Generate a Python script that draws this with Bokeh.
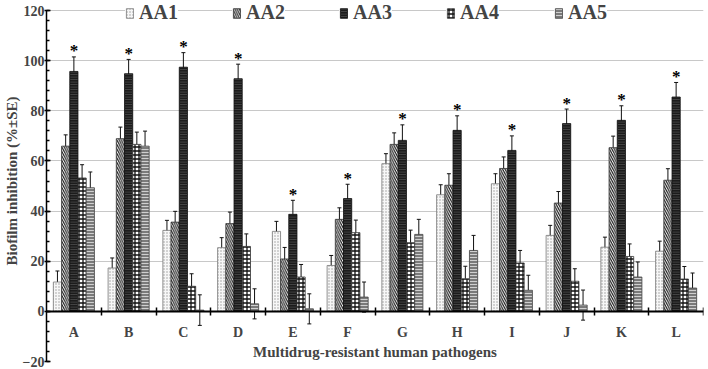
from bokeh.plotting import figure
from bokeh.models import (Range1d, FixedTicker, SingleIntervalTicker, LinearAxis, Grid,
                          Legend, LegendItem, Whisker, TeeHead, ColumnDataSource)
from bokeh.core.properties import value
from bokeh.embed import file_html
from bokeh.resources import INLINE

categories = ["A", "B", "C", "D", "E", "F", "G", "H", "I", "J", "K", "L"]
series = ["AA1", "AA2", "AA3", "AA4", "AA5"]

aa1 = [11.7, 17.3, 32.3, 25.4, 31.9, 18.3, 58.9, 46.5, 50.9, 30.3, 25.6, 24.0]
aa2 = [65.9, 68.9, 35.6, 35.0, 20.9, 36.7, 66.6, 50.3, 57.0, 43.2, 65.3, 52.3]
aa3 = [95.7, 94.8, 97.4, 92.8, 38.7, 45.0, 68.2, 72.2, 64.2, 74.9, 76.2, 85.5]
aa4 = [53.2, 66.6, 10.0, 25.9, 13.7, 31.4, 27.4, 13.0, 19.3, 12.0, 21.9, 12.9]
aa5 = [49.3, 65.9, 0.5, 3.0, 1.0, 5.7, 30.7, 24.3, 8.4, 2.5, 13.7, 9.3]

err1 = [4.4, 4.0, 4.0, 4.0, 4.0, 4.0, 4.0, 4.0, 4.0, 4.0, 4.0, 4.0]
err2 = [4.5, 4.6, 4.3, 4.6, 4.6, 4.6, 4.6, 4.6, 4.6, 4.6, 4.6, 4.6]
err3 = [5.8, 5.7, 5.8, 5.8, 5.6, 5.7, 6.2, 5.8, 5.8, 5.8, 5.8, 5.8]
err4 = [5.3, 4.9, 5.0, 5.0, 5.0, 5.0, 5.0, 5.0, 5.0, 5.0, 5.0, 5.0]
err5 = [6.3, 6.0, 6.1, 6.0, 6.0, 6.0, 6.0, 6.0, 6.0, 6.0, 6.0, 6.0]

y_ticks_max = 120
values = [aa1, aa2, aa3, aa4, aa5]
errors = [err1, err2, err3, err4, err5]

styles = [
    dict(fill_color="#f7f7f7", hatch_pattern="dot", hatch_color="#9a9a9a", hatch_scale=3,
         hatch_weight=1, line_color="#777777"),
    dict(fill_color="white", hatch_pattern="left_diagonal_line", hatch_color="#111111",
         hatch_scale=4.5, hatch_weight=1.1, line_color="#333333"),
    dict(fill_color="#1c1c1c", hatch_pattern="horizontal_line", hatch_color="#555555",
         hatch_scale=2.5, hatch_weight=0.8, line_color="#111111"),
    dict(fill_color="white", hatch_pattern="cross", hatch_color="#111111", hatch_scale=4,
         hatch_weight=1.3, line_color="#333333"),
    dict(fill_color="#7a7a7a", hatch_pattern="horizontal_line", hatch_color="#d0d0d0",
         hatch_scale=3, hatch_weight=1, line_color="#444444"),
]

SERIF = "Liberation Serif"
n = len(categories)
bar_w = 0.15

# range top a little above 120 so the legend row fits inside the frame
p = figure(width=708, height=369, x_range=Range1d(0, n), y_range=Range1d(-20, 124),
           output_backend="svg", toolbar_location=None,
           x_axis_location=None, y_axis_location=None,
           min_border_left=44, min_border_right=5, min_border_top=0, min_border_bottom=8)
p.outline_line_color = None
p.background_fill_color = "white"
for g in p.grid:
    g.visible = False

# y axis
yax = LinearAxis(ticker=SingleIntervalTicker(interval=20, num_minor_ticks=5),
                 bounds=(-20, y_ticks_max))
yax.axis_label = "Biofilm inhibition (%±SE)"
yax.axis_label_text_font = SERIF
yax.axis_label_text_font_style = "bold"
yax.axis_label_text_font_size = "15px"
yax.axis_label_standoff = 0
yax.major_label_text_font = SERIF
yax.major_label_text_font_style = "bold"
yax.major_label_text_font_size = "14px"
yax.major_label_standoff = 0
yax.axis_line_width = 1.5
yax.major_tick_in = 4
yax.major_tick_out = 2
yax.minor_tick_in = 3
yax.minor_tick_out = 0
yax.major_tick_line_width = 1.5
yax.minor_tick_line_width = 1.5
p.add_layout(yax, "left")
p.add_layout(Grid(dimension=1, ticker=yax.ticker, grid_line_color="#c8c8c8", grid_line_width=1))

# x axis at y = 0
centers = [i + 0.5 for i in range(n)]
bounds = [i + 1.0 for i in range(n)]
xax = LinearAxis(fixed_location=0,
                 ticker=FixedTicker(ticks=centers, minor_ticks=bounds),
                 major_label_overrides={c: lab for c, lab in zip(centers, categories)})
xax.axis_label = "Multidrug-resistant human pathogens"
xax.axis_label_text_font = SERIF
xax.axis_label_text_font_style = "bold"
xax.axis_label_text_font_size = "15px"
xax.axis_label_standoff = 0
xax.major_label_text_font = SERIF
xax.major_label_text_font_style = "bold"
xax.major_label_text_font_size = "14px"
xax.major_label_standoff = 10
xax.major_tick_line_color = None
xax.major_tick_in = 0
xax.major_tick_out = 0
xax.minor_tick_in = 4
xax.minor_tick_out = 4
xax.minor_tick_line_width = 1.5
xax.axis_line_width = 2
p.add_layout(xax, "below")

renderers = []
for k, (name, vals, errs, st) in enumerate(zip(series, values, errors, styles)):
    off = (k - 2) * bar_w
    xs = [c + off for c in centers]
    src = ColumnDataSource(dict(x=xs, top=vals,
                                upper=[v + e for v, e in zip(vals, errs)],
                                lower=[v - e for v, e in zip(vals, errs)]))
    r = p.vbar(x="x", top="top", bottom=0, width=bar_w, source=src, line_width=0.8, **st)
    renderers.append(r)
    p.add_layout(Whisker(source=src, base="x", upper="upper", lower="lower",
                         line_color="#111111", line_width=1,
                         upper_head=TeeHead(size=4, line_color="#111111", line_width=1),
                         lower_head=TeeHead(size=4, line_color="#111111", line_width=1)))

# significance stars above AA3
star_src = ColumnDataSource(dict(x=centers, y=[v + e for v, e in zip(aa3, err3)],
                                 t=["*"] * n))
p.text(x="x", y="y", text="t", source=star_src, text_font=value(SERIF),
       text_font_size="17px", text_font_style="bold", text_align="center",
       text_baseline="alphabetic", y_offset=-6, text_color="black")

# legend: one small box per item so the top gridline shows between them
leg_x = [79, 186, 293, 400, 508]
for name, r, lx in zip(series, renderers, leg_x):
    leg = Legend(items=[LegendItem(label=name, renderers=[r])], location=(lx, 337),
                 orientation="horizontal", padding=2, margin=0, spacing=0,
                 glyph_width=9, glyph_height=12, label_standoff=5, label_height=20,
                 label_text_font=SERIF, label_text_font_style="bold",
                 label_text_font_size="20px", border_line_color=None,
                 background_fill_color="white", background_fill_alpha=1)
    p.add_layout(leg)

open("out.html", "w").write(file_html(p, INLINE))
